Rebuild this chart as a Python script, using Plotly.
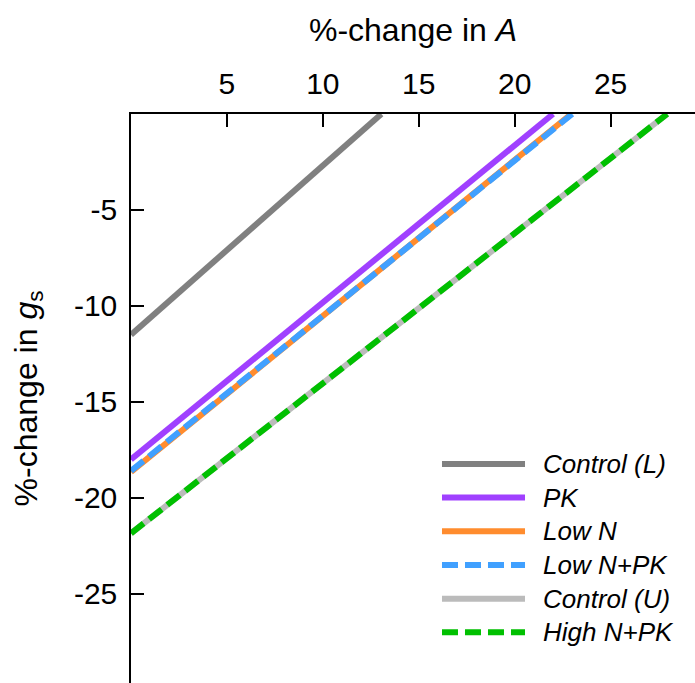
import plotly.graph_objects as go

# ---- data ----
series = ["Control (L)", "PK", "Low N", "Low N+PK", "Control (U)", "High N+PK"]
x_start = [0, 0, 0, 0, 0, 0]
x_end = [13.05, 22.0, 22.95, 23.0, 27.95, 27.95]
y_start = [-11.5, -18.0, -18.65, -18.6, -21.85, -21.85]
y_end = [0, 0, 0, 0, 0, 0]
colors = ["#808080", "#a040ff", "#ff8c2e", "#40a0ff", "#bbbbbb", "#00c000"]
dashes = ["solid", "solid", "solid", "16px,7px", "solid", "16px,7px"]
x_ticks = [5, 10, 15, 20, 25]
x_ticktext = ["5", "10", "15", "20", "25"]
y_ticks = [-5, -10, -15, -20, -25]
y_ticktext = ["-5", "-10", "-15", "-20", "-25"]

FONT = "Liberation Sans, Arial, Helvetica, sans-serif"
LW = 6

fig = go.Figure()
for i, name in enumerate(series):
    fig.add_trace(go.Scatter(
        x=[x_start[i], x_end[i]], y=[y_start[i], y_end[i]],
        mode="lines", name=name, showlegend=False,
        line=dict(color=colors[i], width=LW, dash=dashes[i]),
        cliponaxis=False,
    ))

# manual legend (long sample lines like the reference)
x0, x1, xt = 0.5514, 0.6986, 0.7270
ytop, dy = 0.385, 0.0592
shapes = []
annotations = []
for i, name in enumerate(series):
    yy = ytop - i * dy
    shapes.append(dict(type="line", xref="paper", yref="paper",
                       x0=x0, x1=x1, y0=yy, y1=yy,
                       line=dict(color=colors[i], width=LW, dash=dashes[i])))
    annotations.append(dict(xref="paper", yref="paper", x=xt, y=yy,
                             text="<i>%s</i>" % name, showarrow=False,
                             xanchor="left", yanchor="middle",
                             font=dict(family=FONT, size=26, color="black")))

fig.update_layout(
    width=695, height=683,
    margin=dict(l=131, r=0, t=114, b=0, pad=0),
    paper_bgcolor="white", plot_bgcolor="white",
    font=dict(family=FONT, size=30, color="black"),
    shapes=shapes, annotations=annotations,
    xaxis=dict(
        side="top", range=[0, 29.4], tickvals=x_ticks, ticktext=x_ticktext,
        ticks="inside", ticklen=13, tickwidth=1.5, tickcolor="black",
        showline=True, linecolor="black", linewidth=1.5,
        showgrid=False, zeroline=False, ticklabelstandoff=6,
        tickfont=dict(family=FONT, size=30, color="black"),
        title=dict(text="%-change in <i>A</i>", font=dict(family=FONT, size=32, color="black"), standoff=16),
    ),
    yaxis=dict(
        range=[-29.65, 0], tickvals=y_ticks, ticktext=y_ticktext,
        ticks="inside", ticklen=13, tickwidth=1.5, tickcolor="black",
        showline=True, linecolor="black", linewidth=1.5,
        showgrid=False, zeroline=False, ticklabelstandoff=6,
        tickfont=dict(family=FONT, size=30, color="black"),
        title=dict(text="%-change in <i>g</i><sub>s</sub>", font=dict(family=FONT, size=32, color="black"), standoff=27),
    ),
)

fig.write_html("out.html")
